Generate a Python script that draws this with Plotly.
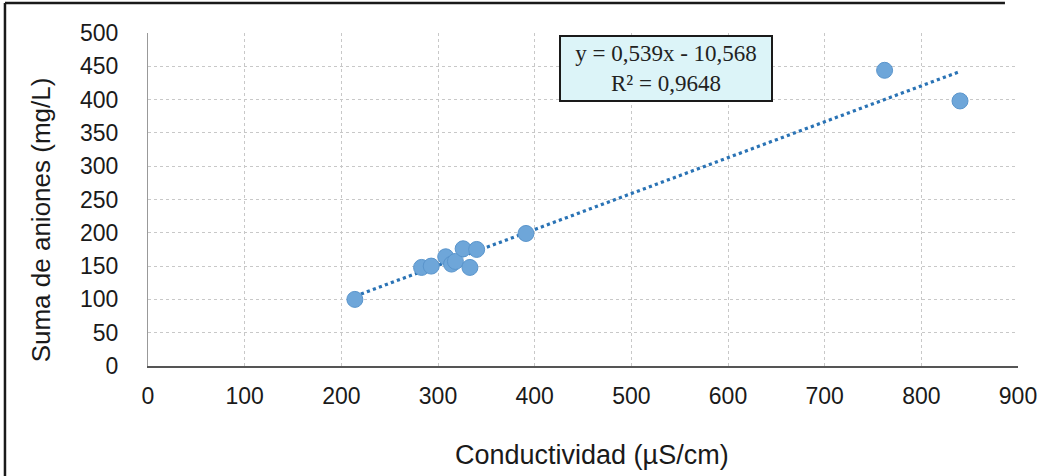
import plotly.graph_objects as go

# Data
conductividad = [214, 283, 293, 308, 314, 318, 326, 333, 340, 391, 762, 840]
suma_aniones = [100, 148, 150, 164, 153, 157, 176, 148, 175, 199, 444, 398]
# Trendline coefficients as printed on the chart
slope = 0.539
intercept = -10.568
r2 = 0.9648

x_ticks = [0, 100, 200, 300, 400, 500, 600, 700, 800, 900]
y_ticks = [0, 50, 100, 150, 200, 250, 300, 350, 400, 450, 500]

x_line = [min(conductividad), max(conductividad)]
y_line = [slope * v + intercept for v in x_line]

fig = go.Figure()
fig.add_trace(go.Scatter(
    x=x_line, y=y_line, mode="lines",
    line=dict(color="#2a73b5", width=3.2, dash="dot"),
    showlegend=False, hoverinfo="skip"))
fig.add_trace(go.Scatter(
    x=conductividad, y=suma_aniones, mode="markers",
    marker=dict(size=16, color="#6ea6d9", line=dict(color="#5a95cc", width=1)),
    showlegend=False))

def fmt(v):
    return f"{abs(v):.3f}".replace(".", ",")

eq_text = f"y = {fmt(slope)}x - {fmt(intercept)}<br>R² = {str(r2).replace('.', ',')}"

fig.add_annotation(
    x=536, y=446, xref="x", yref="y", text=eq_text, showarrow=False,
    font=dict(family="Liberation Serif, Times New Roman, serif", size=23, color="#222"),
    bgcolor="#dcf4f8", bordercolor="#1a1a1a", borderwidth=2, borderpad=4,
    width=202, align="center")

# axis titles
fig.add_annotation(
    x=0.510, y=-0.267, xref="paper", yref="paper", text="Conductividad (µS/cm)",
    showarrow=False, xanchor="center", yanchor="middle",
    font=dict(size=27, color="#1a1a1a"))
fig.add_annotation(
    x=-0.122, y=0.44, xref="paper", yref="paper", text="Suma de aniones (mg/L)",
    showarrow=False, xanchor="center", yanchor="middle", textangle=-90,
    font=dict(size=26, color="#1a1a1a"))

# scanned frame: left and top edges
fig.add_shape(type="line", xref="paper", yref="paper",
              x0=-0.1644, x1=-0.1644, y0=-0.33, y1=1.09,
              line=dict(color="#1a1a1a", width=2.5), layer="below")
fig.add_shape(type="line", xref="paper", yref="paper",
              x0=-0.1644, x1=0.985, y0=1.09, y1=1.09,
              line=dict(color="#1a1a1a", width=2.5), layer="below")

fig.update_layout(
    width=1060, height=476,
    margin=dict(l=148, r=42, t=33, b=110, autoexpand=False),
    paper_bgcolor="white", plot_bgcolor="white",
    font=dict(family="Liberation Sans, Arial, sans-serif", color="#1a1a1a"),
)
fig.update_xaxes(
    range=[0, 900], tickvals=x_ticks, ticktext=[str(v) for v in x_ticks],
    tickfont=dict(size=23), ticklabelstandoff=9, automargin=False,
    showgrid=True, gridcolor="#c8c8c8", griddash="dot", gridwidth=1,
    showline=True, linecolor="#555", linewidth=1.5, zeroline=False)
fig.update_yaxes(
    range=[0, 500], tickvals=y_ticks, ticktext=[str(v) for v in y_ticks],
    tickfont=dict(size=23), ticklabelstandoff=24, automargin=False,
    showgrid=True, gridcolor="#c8c8c8", griddash="dot", gridwidth=1,
    showline=True, linecolor="#999", linewidth=1, zeroline=False)

fig.write_html("out.html", config={"displayModeBar": False},
               post_script="document.body.style.margin='0';")
